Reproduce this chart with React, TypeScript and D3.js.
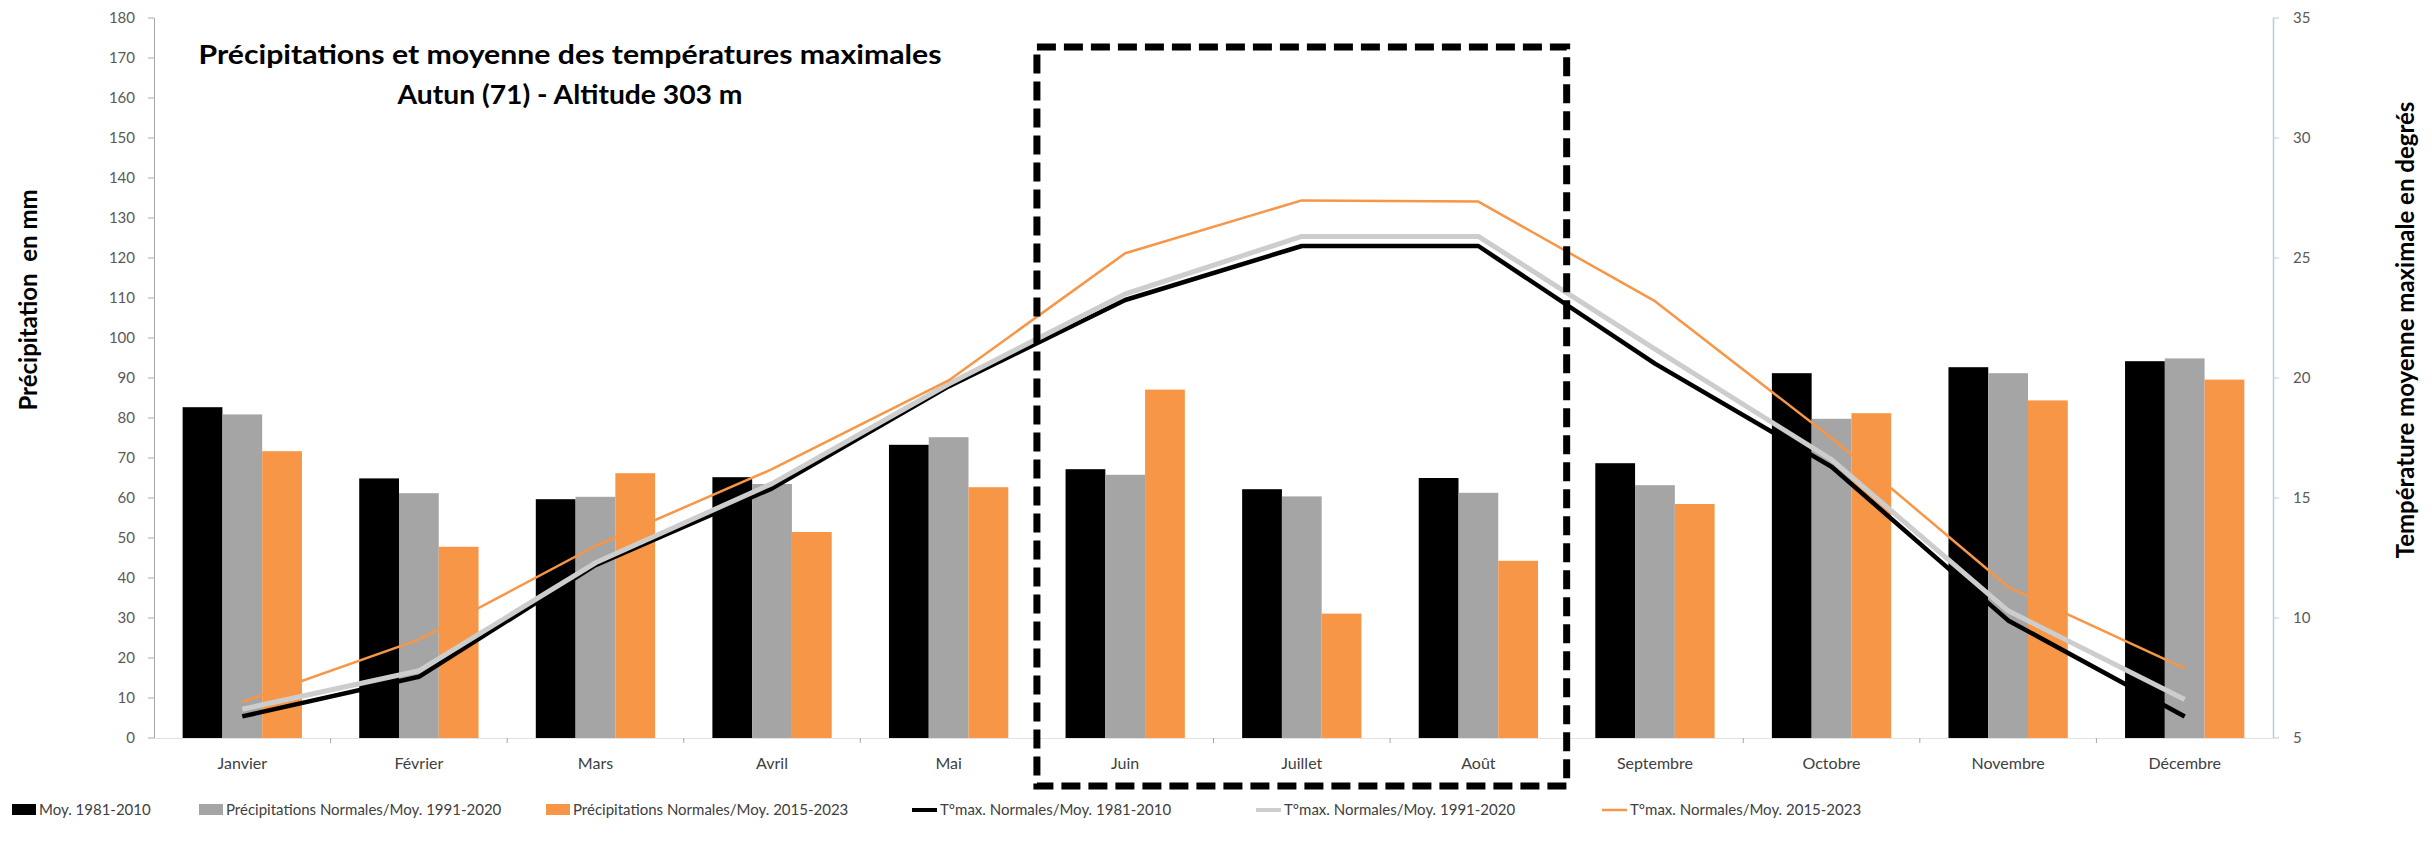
import React, { useEffect, useRef } from 'react';
import * as d3 from 'd3';

// valeurs (précipitations en mm, T°max en °C)
const months = ['Janvier', 'Février', 'Mars', 'Avril', 'Mai', 'Juin', 'Juillet', 'Août', 'Septembre', 'Octobre', 'Novembre', 'Décembre'];
const precip8110 = [82.7, 64.9, 59.7, 65.2, 73.3, 67.2, 62.2, 65.0, 68.7, 91.2, 92.7, 94.2];
const precip9120 = [80.9, 61.2, 60.3, 63.5, 75.2, 65.8, 60.4, 61.3, 63.2, 79.8, 91.2, 94.9];
const precip1523 = [71.7, 47.8, 66.2, 51.5, 62.7, 87.1, 31.1, 44.3, 58.5, 81.2, 84.4, 89.6];
const tmax8110 = [5.9, 7.55, 12.2, 15.4, 19.65, 23.25, 25.5, 25.5, 20.6, 16.3, 9.9, 5.9];
const tmax9120 = [6.2, 7.8, 12.3, 15.6, 19.75, 23.5, 25.9, 25.9, 21.2, 16.6, 10.3, 6.6];
const tmax1523 = [6.5, 9.1, 13.0, 16.2, 19.9, 25.2, 27.4, 27.35, 23.2, 17.5, 11.3, 7.9];
const leftTicks = d3.range(0, 181, 10);
const rightTicks = [5, 10, 15, 20, 25, 30, 35];
const summerMonths = ['Juin', 'Août'];

const barLabels = ['Moy. 1981-2010', 'Précipitations Normales/Moy. 1991-2020', 'Précipitations Normales/Moy. 2015-2023'];
const lineLabels = ['T°max. Normales/Moy. 1981-2010', 'T°max. Normales/Moy. 1991-2020', 'T°max. Normales/Moy. 2015-2023'];

const App = () => {
  const svgRef = useRef<SVGSVGElement>(null);

  useEffect(() => {
    const W = 2432;
    const H = 842;
    const left = 154, right = 2273, top = 18, bottom = 738;
    const font = 'Lato, "Open Sans", sans-serif';

    const svg = d3.select(svgRef.current).attr('width', W).attr('height', H);
    svg.selectAll('*').remove();

    const x = d3.scaleBand<string>().domain(months).range([left, right]);
    const xs = d3.scaleBand<number>().domain([0, 1, 2]).range([0, x.bandwidth()]).paddingOuter(0.72);
    const yL = d3.scaleLinear().domain([0, 180]).range([bottom, top]);
    const yR = d3.scaleLinear().domain([5, 35]).range([bottom, top]);

    const barColors = ['#000000', '#A5A5A5', '#F79646'];
    const lineColors = ['#000000', '#CDCDCD', '#F79646'];
    const lineWidths = [4.5, 5, 2.5];

    // barres
    [precip8110, precip9120, precip1523].forEach((serie, s) => {
      svg.append('g')
        .selectAll('rect')
        .data(serie)
        .join('rect')
        .attr('x', (d, i) => x(months[i])! + xs(s)!)
        .attr('y', d => yL(d))
        .attr('width', xs.bandwidth())
        .attr('height', d => bottom - yL(d))
        .attr('fill', barColors[s]);
    });

    // axe des catégories
    svg.append('line')
      .attr('x1', left).attr('x2', right).attr('y1', bottom + 0.5).attr('y2', bottom + 0.5)
      .attr('stroke', '#E3E3E3');
    svg.append('g')
      .selectAll('line')
      .data(months.slice(1))
      .join('line')
      .attr('x1', d => x(d)!).attr('x2', d => x(d)!)
      .attr('y1', bottom).attr('y2', bottom + 5)
      .attr('stroke', '#A6A6A6');
    svg.append('g')
      .selectAll('text')
      .data(months)
      .join('text')
      .attr('x', d => x(d)! + x.bandwidth() / 2)
      .attr('y', bottom + 31)
      .attr('text-anchor', 'middle')
      .attr('font-family', font)
      .attr('font-size', 16)
      .attr('fill', '#404040')
      .text(d => d);

    // lignes
    const line = d3.line<number>()
      .x((d, i) => x(months[i])! + x.bandwidth() / 2)
      .y(d => yR(d));
    [tmax8110, tmax9120, tmax1523].forEach((serie, s) => {
      svg.append('path')
        .datum(serie)
        .attr('fill', 'none')
        .attr('stroke', lineColors[s])
        .attr('stroke-width', lineWidths[s])
        .attr('stroke-linejoin', 'round')
        .attr('d', line);
    });

    // axe gauche
    const gl = svg.append('g');
    gl.append('line').attr('x1', left + 0.5).attr('x2', left + 0.5).attr('y1', top).attr('y2', bottom)
      .attr('stroke', '#A6A6A6');
    gl.selectAll('.tk').data(leftTicks).join('line').attr('class', 'tk')
      .attr('x1', left - 6).attr('x2', left).attr('y1', d => yL(d)).attr('y2', d => yL(d))
      .attr('stroke', '#A6A6A6');
    gl.selectAll('text').data(leftTicks).join('text')
      .attr('x', left - 19).attr('y', d => yL(d)).attr('dy', '0.35em')
      .attr('text-anchor', 'end').attr('font-family', font).attr('font-size', 15).attr('fill', '#595959')
      .text(d => d);

    // axe droit
    const gr = svg.append('g');
    gr.append('line').attr('x1', right + 0.5).attr('x2', right + 0.5).attr('y1', top).attr('y2', bottom)
      .attr('stroke', '#B9CBDF').attr('stroke-width', 1.5);
    gr.selectAll('.tk').data(rightTicks).join('line').attr('class', 'tk')
      .attr('x1', right).attr('x2', right + 6).attr('y1', d => yR(d)).attr('y2', d => yR(d))
      .attr('stroke', '#B9CBDF');
    gr.selectAll('text').data(rightTicks).join('text')
      .attr('x', right + 20).attr('y', d => yR(d)).attr('dy', '0.35em')
      .attr('font-family', font).attr('font-size', 15).attr('fill', '#595959')
      .text(d => d);

    // titres des axes
    svg.append('text')
      .attr('transform', 'translate(37, 300) rotate(-90)')
      .attr('text-anchor', 'middle').attr('font-family', font).attr('font-weight', 'bold')
      .attr('font-size', 24).attr('fill', '#000').style('white-space', 'pre')
      .text('Précipitation  en mm');
    svg.append('text')
      .attr('transform', 'translate(2414, 330) rotate(-90)')
      .attr('text-anchor', 'middle').attr('font-family', font).attr('font-weight', 'bold')
      .attr('font-size', 24).attr('fill', '#000')
      .text('Température moyenne maximale en degrés');

    // titre
    svg.append('text')
      .attr('x', 570).attr('y', 64).attr('text-anchor', 'middle')
      .attr('font-family', font).attr('font-weight', 'bold').attr('font-size', 27)
      .attr('textLength', 743).attr('lengthAdjust', 'spacingAndGlyphs')
      .text('Précipitations et moyenne des températures maximales');
    svg.append('text')
      .attr('x', 570).attr('y', 104).attr('text-anchor', 'middle')
      .attr('font-family', font).attr('font-weight', 'bold').attr('font-size', 27)
      .attr('textLength', 345).attr('lengthAdjust', 'spacingAndGlyphs')
      .text('Autun (71) - Altitude 303 m');

    // cadre pointillé été
    svg.append('rect')
      .attr('x', x(summerMonths[0])!)
      .attr('y', 47)
      .attr('width', x(summerMonths[1])! + x.bandwidth() - x(summerMonths[0])!)
      .attr('height', 786 - 47)
      .attr('fill', 'none')
      .attr('stroke', '#000')
      .attr('stroke-width', 7)
      .attr('stroke-dasharray', '19 8');

    // légende
    const ly = 810;
    const barPos = [12, 199, 546];
    const linePos = [912, 1256, 1602];
    const lg = svg.append('g').attr('font-family', font).attr('font-size', 15).attr('fill', '#404040');
    barLabels.forEach((lab, s) => {
      lg.append('rect').attr('x', barPos[s]).attr('y', ly - 6).attr('width', 24).attr('height', 11).attr('fill', barColors[s]);
      lg.append('text').attr('x', barPos[s] + 27).attr('y', ly).attr('dy', '0.35em').text(lab);
    });
    lineLabels.forEach((lab, s) => {
      lg.append('line').attr('x1', linePos[s]).attr('x2', linePos[s] + 25).attr('y1', ly).attr('y2', ly)
        .attr('stroke', lineColors[s]).attr('stroke-width', s === 2 ? 2.5 : 4);
      lg.append('text').attr('x', linePos[s] + 28).attr('y', ly).attr('dy', '0.35em').text(lab);
    });
  }, []);

  return <svg ref={svgRef} style={{ position: 'absolute', left: 0, top: 0, display: 'block', background: '#fff' }}></svg>;
};

export default App;
